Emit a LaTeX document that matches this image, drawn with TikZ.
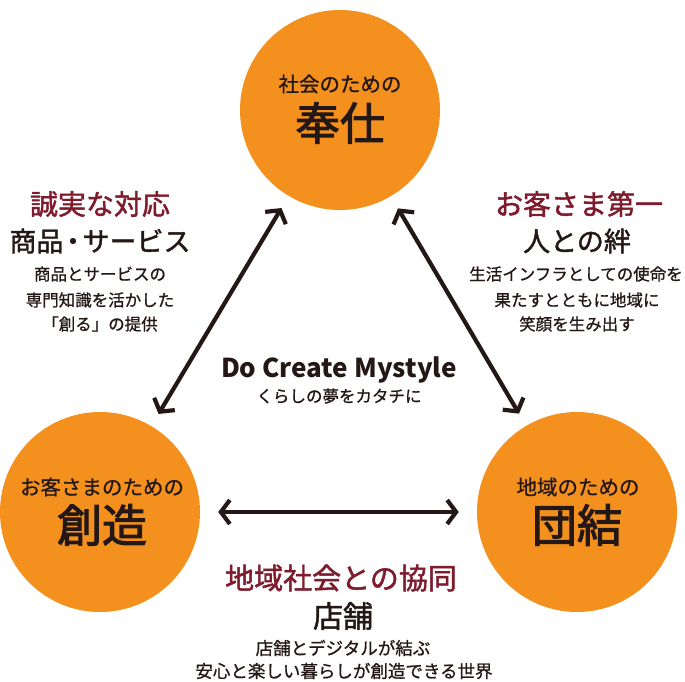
\documentclass[tikz,border=0pt]{standalone}
\usepackage{fontspec}
\setmainfont{Noto Sans CJK JP}
\newfontfamily\jp{Noto Sans CJK JP}
\newfontfamily\jpsm[FakeBold=0.9]{Noto Sans CJK JP}
\newfontfamily\jpmd[FakeBold=1.6]{Noto Sans CJK JP}
\newfontfamily\jphv[FakeBold=2.4]{Noto Sans CJK JP}
\usetikzlibrary{arrows.meta}
\definecolor{circorange}{HTML}{F4911E}
\definecolor{darkred}{HTML}{7E1B2C}
\definecolor{ink}{HTML}{231815}
\tikzset{
  bigcircle/.style={circle, fill=circorange, minimum size=200pt, inner sep=0pt, draw=none},
  txt/.style={inner sep=0pt, text=ink, font=\jpsm},
  redtitle/.style={txt, text=darkred, font=\jpmd\fontsize{28}{32}\selectfont},
  subtitle/.style={txt, font=\jpmd\fontsize{27}{30}\selectfont},
  small/.style={txt, font=\jpsm\fontsize{16.5}{20}\selectfont},
  circsmall/.style={txt, font=\jpsm\fontsize{20.5}{24}\selectfont},
  circbig/.style={txt, font=\jphv\fontsize{45}{50}\selectfont},
  dblarrow/.style={draw=ink, line width=4.2pt,
    {Straight Barb[length=9pt,width=24pt]}-{Straight Barb[length=9pt,width=24pt]}}
}
\begin{document}
\begin{tikzpicture}[x=1pt,y=-1pt]
\useasboundingbox (0,0) rectangle (685,682);
% circles
\node[bigcircle] (top) at (340,110) {};
\node[bigcircle] (left) at (100,512) {};
\node[bigcircle] (right) at (577,512) {};
% arrows
\draw[dblarrow, shorten <=14pt, shorten >=14pt] (top) -- (left);
\draw[dblarrow, shorten <=14pt, shorten >=14pt] (top) -- (right);
\draw[dblarrow, shorten <=18pt, shorten >=18pt] (left) -- (right);
% circle texts
\node[circsmall] (t1) at (340,84) {社会のための};
\node[circbig] (t2) at (340,123) {奉仕};
\node[circsmall] (l1) at (102,487) {お客さまのための};
\node[circbig] (l2) at (102,525) {創造};
\node[circsmall] (r1) at (578,487) {地域のための};
\node[circbig] (r2) at (577,525) {団結};
% left block
\node[redtitle] (a1) at (100,204) {誠実な対応};
\node[subtitle] (a2) at (100,241) {商品\kern-4pt・\kern-4ptサービス};
\node[small] (a3) at (100,274) {商品とサービスの};
\node[small] (a4) at (100,300) {専門知識を活かした};
\node[small] (a5) at (100,324) {「創る」の提供};
% right block
\node[redtitle] (b1) at (579,204) {お客さま第一};
\node[subtitle] (b2) at (577,241) {人との絆};
\node[small] (b3) at (576,274) {生活インフラとしての使命を};
\node[small] (b4) at (577,300) {果たすとともに地域に};
\node[small] (b5) at (577,324) {笑顔を生み出す};
% center
\node[txt, font=\jp\bfseries\fontsize{26}{30}\selectfont, anchor=base] (c1) at (339,377) {Do Create Mystyle};
\node[small] (c2) at (339,396) {くらしの夢をカタチに};
% bottom
\node[redtitle, font=\jpmd\fontsize{29}{32}\selectfont] (d1) at (341,578) {地域社会との協同};
\node[subtitle, font=\jpmd\fontsize{30}{32}\selectfont] (d2) at (343,616) {店舗};
\node[small, font=\jpsm\fontsize{17.5}{21}\selectfont] (d3) at (343,648) {店舗とデジタルが結ぶ};
\node[small, font=\jpsm\fontsize{17.5}{21}\selectfont] (d4) at (344,671) {安心と楽しい暮らしが創造できる世界};
\end{tikzpicture}
\end{document}
